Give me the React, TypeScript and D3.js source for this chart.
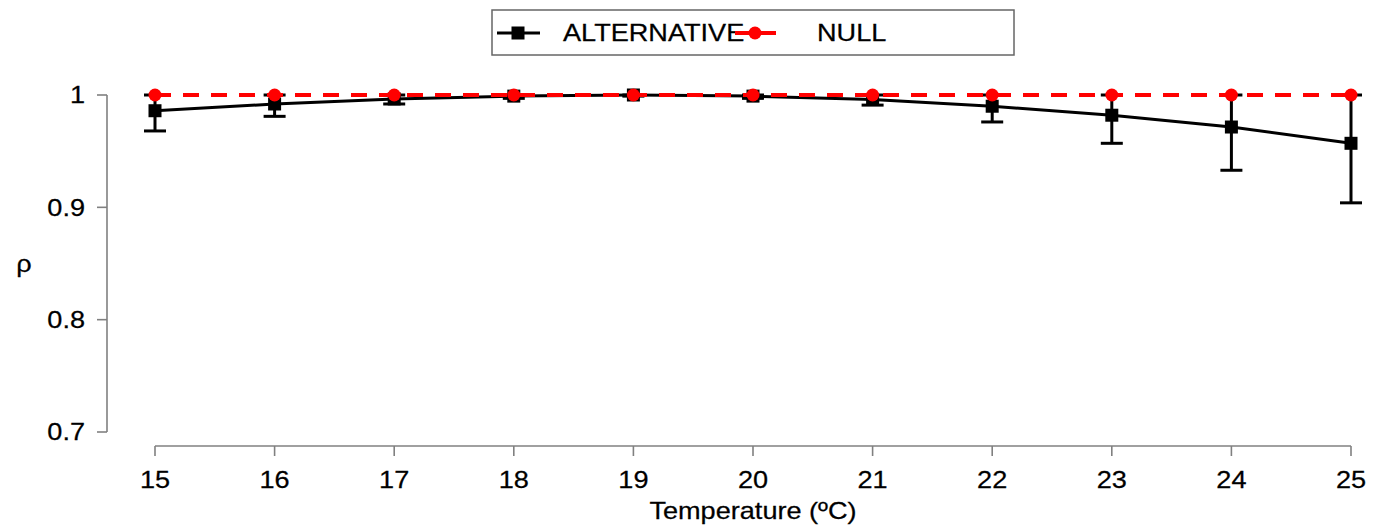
import React from "react";
import * as d3 from "d3";

const temps = [15, 16, 17, 18, 19, 20, 21, 22, 23, 24, 25];
const altMean = [0.986, 0.992, 0.9965, 0.999, 1.0, 0.999, 0.996, 0.99, 0.982, 0.9715, 0.957];
const altLower = [0.968, 0.981, 0.992, 0.997, 0.999, 0.997, 0.991, 0.976, 0.957, 0.933, 0.904];
const altUpper = [1, 1, 1, 1, 1, 1, 1, 1, 1, 1, 1];
const nullMean = [1, 1, 1, 1, 1, 1, 1, 1, 1, 1, 1];
const yTicks = [0.7, 0.8, 0.9, 1];
const yTickLabels = ["0.7", "0.8", "0.9", "1"];
const seriesNames = ["ALTERNATIVE", "NULL"];

const W = 1376;
const H = 528;
const FONT = "'Liberation Sans', Arial, Helvetica, sans-serif";
const FS = 24;
const SX = 1.13;

function T({ x, y, anchor = "middle", children }: any) {
  return (
    <text
      transform={`translate(${x},${y}) scale(${SX},1)`}
      textAnchor={anchor}
      dominantBaseline="central"
      fontFamily={FONT}
      fontSize={FS}
      fill="#000"
      stroke="#000"
      strokeWidth={0.25}
    >
      {children}
    </text>
  );
}

export default function App() {
  const x = d3.scaleLinear().domain([15, 25]).range([155, 1351]);
  const y = d3.scaleLinear().domain([0.7, 1]).range([432, 95]);
  const axisX = 107;
  const axisY = 446;

  const altLine = d3
    .line<number>()
    .x((_, i) => x(temps[i]))
    .y((d) => y(d))(altMean) as string;
  const nullLine = d3
    .line<number>()
    .x((_, i) => x(temps[i]))
    .y((d) => y(d))(nullMean) as string;

  const axisColor = "#808080";
  const capW = 11;
  const sq = 13;

  return (
    <svg width={W} height={H} style={{ position: "absolute", left: 0, top: 0, background: "#fff" }}>
      <rect x={0} y={0} width={W} height={H} fill="#fff" />
      {/* Y axis */}
      <line x1={axisX} x2={axisX} y1={y(0.7)} y2={y(1)} stroke={axisColor} strokeWidth={1.6} />
      {yTicks.map((t, i) => (
        <g key={t}>
          <line x1={axisX - 10} x2={axisX} y1={y(t)} y2={y(t)} stroke={axisColor} strokeWidth={1.6} />
          <T x={85} y={y(t)} anchor="end">
            {yTickLabels[i]}
          </T>
        </g>
      ))}
      <T x={24} y={(y(0.7) + y(1)) / 2}>ρ</T>

      {/* X axis */}
      <line x1={x(15)} x2={x(25)} y1={axisY} y2={axisY} stroke={axisColor} strokeWidth={1.6} />
      {temps.map((t) => (
        <g key={t}>
          <line x1={x(t)} x2={x(t)} y1={axisY} y2={axisY + 10} stroke={axisColor} strokeWidth={1.6} />
          <T x={x(t)} y={480}>{String(t)}</T>
        </g>
      ))}
      <T x={753} y={511}>Temperature (ºC)</T>

      {/* Alternative error bars */}
      {temps.map((t, i) => (
        <g key={"e" + t}>
          <line x1={x(t)} x2={x(t)} y1={y(altLower[i])} y2={y(altUpper[i])} stroke="#000" strokeWidth={3} />
          <line x1={x(t) - capW} x2={x(t) + capW} y1={y(altLower[i])} y2={y(altLower[i])} stroke="#000" strokeWidth={3} />
          <line x1={x(t) - capW} x2={x(t) + capW} y1={y(altUpper[i])} y2={y(altUpper[i])} stroke="#000" strokeWidth={3} />
        </g>
      ))}
      <path d={altLine} fill="none" stroke="#000" strokeWidth={3} />
      {temps.map((t, i) => (
        <rect key={"s" + t} x={x(t) - sq / 2} y={y(altMean[i]) - sq / 2} width={sq} height={sq} fill="#000" />
      ))}

      {/* Null */}
      <path d={nullLine} fill="none" stroke="#ff0000" strokeWidth={4} strokeDasharray="16 12" />
      {temps.map((t, i) => (
        <circle key={"c" + t} cx={x(t)} cy={y(nullMean[i])} r={6.5} fill="#ff0000" />
      ))}

      {/* Legend */}
      <rect x={492} y={10} width={522} height={45} fill="#fff" stroke="#666" strokeWidth={1.5} />
      <line x1={497} x2={540} y1={33} y2={33} stroke="#000" strokeWidth={3} />
      <rect x={518 - sq / 2} y={33 - sq / 2} width={sq} height={sq} fill="#000" />
      <T x={563} y={33} anchor="start">{seriesNames[0]}</T>
      <line x1={735} x2={776} y1={33} y2={33} stroke="#ff0000" strokeWidth={4} />
      <circle cx={755} cy={33} r={6.5} fill="#ff0000" />
      <T x={817} y={33} anchor="start">{seriesNames[1]}</T>
    </svg>
  );
}
